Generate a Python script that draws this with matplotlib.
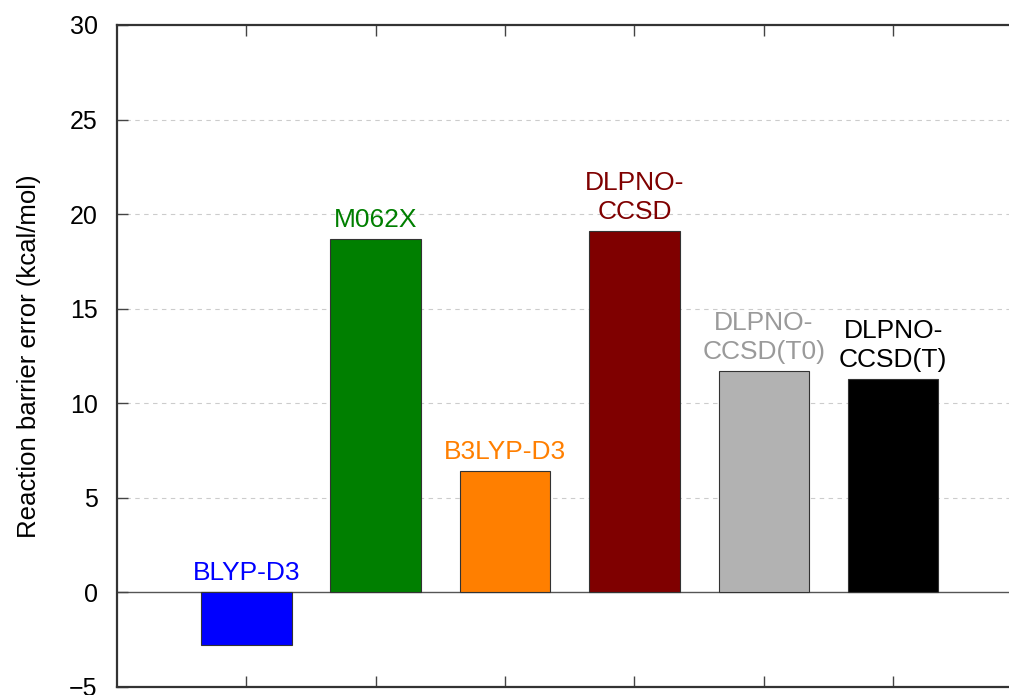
import matplotlib
matplotlib.use("Agg")
import matplotlib.pyplot as plt

plt.rcParams['font.family'] = ['Liberation Sans', 'DejaVu Sans']

methods = ["BLYP-D3", "M062X", "B3LYP-D3", "DLPNO-\nCCSD", "DLPNO-\nCCSD(T0)", "DLPNO-\nCCSD(T)"]
errors = [-2.8, 18.7, 6.4, 19.1, 11.7, 11.3]
bar_colors = ["#0000ff", "#007f00", "#ff7f00", "#7f0000", "#b2b2b2", "#000000"]
label_colors = ["#0000ff", "#007f00", "#ff7f00", "#7f0000", "#9a9a9a", "#000000"]
yticks = [-5, 0, 5, 10, 15, 20, 25, 30]

fig = plt.figure(figsize=(10.09, 6.95), dpi=100)
W, H = 1009, 695
ax = fig.add_axes([117 / W, 1 - 687 / H, (1022.5 - 117) / W, (687 - 25) / H])

positions = list(range(1, len(errors) + 1))
ax.bar(positions, errors, width=0.7, color=bar_colors, edgecolor="#333333",
       linewidth=0.8, zorder=2)

for x, v, name, c in zip(positions, errors, methods, label_colors):
    base = max(v, 0)
    ax.annotate(name, (x, base), xytext=(0, 5), textcoords="offset points",
                ha="center", va="bottom", color=c, fontsize=19,
                linespacing=1.25, zorder=3)

ax.axhline(0, color="#555555", linewidth=1.0, zorder=1)
for t in yticks[2:-1]:
    ax.axhline(t, color="#cccccc", linewidth=0.8, linestyle=(0, (4, 4)), zorder=0)

ax.set_xlim(0, len(errors) + 1)
ax.set_ylim(-5, 30)
ax.set_yticks(yticks)
ax.set_xticks(positions)
ax.set_xticklabels([])
ax.tick_params(axis="y", direction="in", length=8, width=1, color="#444444",
               labelsize=18, pad=14)
ax.tick_params(axis="x", direction="in", length=8, width=1, color="#444444",
               top=True, bottom=True)
for s in ax.spines.values():
    s.set_color("#333333")
    s.set_linewidth(1.6)

ax.set_ylabel("Reaction barrier error (kcal/mol)", fontsize=18.5, labelpad=20)

fig.savefig("out.png", dpi=100)
